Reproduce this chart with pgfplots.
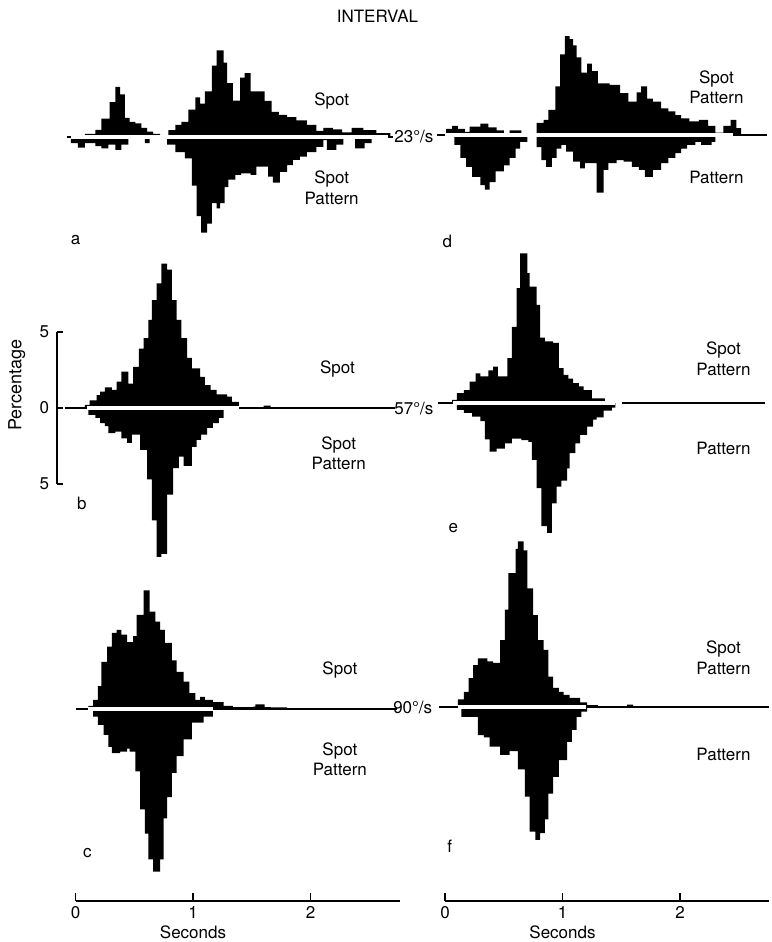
\documentclass[border=0pt]{standalone}
\usepackage{fontspec}
\setmainfont{TeX Gyre Heros}
\usepackage{pgfplots}
\pgfplotsset{compat=1.18}

\newcommand{\lf}{\fontsize{17}{20}\selectfont}

\tikzset{lbl/.style={font=\lf, anchor=base, inner sep=0pt}}
\pgfplotsset{
  panel/.style={anchor=south west, x=117.5pt, y=15.2pt,
    xmin=-0.2, xmax=2.8, ymin=-11, ymax=11,
    hide axis, clip=false, enlargelimits=false},
  hist/.style={const plot, fill=black, draw=none},
  zero/.style={black, line width=1.3pt},
  gap/.style={white, line width=4pt},
  timeaxis/.style={anchor=south west, x=117.5pt, y=10pt,
    xmin=0, xmax=2.76, ymin=0, ymax=1, clip=false,
    axis x line=bottom, axis y line=none,
    axis line style={-, line width=1.3pt},
    xtick={0,1,2}, tick align=inside, major tick length=8pt,
    tick style={line width=1.3pt, black},
    tick label style={font=\lf},
    /pgf/number format/assume math mode=true, enlargelimits=false},
}

\begin{document}
\lf
\begin{tikzpicture}
\useasboundingbox (0pt,0pt) rectangle (771pt,942pt);

% ---------------- panel a : 23 deg/s, Spot / Spot+Pattern
\begin{axis}[panel, at={(52pt,637.8pt)}]
\addplot[zero] coordinates {(-0.07,0) (2.70,0)};
\addplot[hist] coordinates {(0.08,0.2) (0.17,0.46) (0.22,1.2) (0.29,2.3) (0.34,3.3) (0.38,2.8) (0.42,1.25) (0.46,1.0) (0.51,0.9) (0.56,0.6) (0.61,0.35) (0.66,0.2) (0.72,0)
 (0.79,0.45) (0.85,0.8) (0.90,1.0) (0.96,1.8) (1.02,2.6) (1.06,2.2) (1.10,3.0) (1.16,4.7) (1.20,5.7) (1.26,4.9) (1.29,3.55) (1.34,2.4) (1.40,3.9) (1.44,4.2) (1.49,3.0) (1.56,3.0) (1.61,2.37) (1.67,1.66) (1.73,1.45) (1.80,1.3) (1.88,1.1) (1.97,0.8) (2.05,0.4) (2.11,0.6) (2.19,0.5) (2.27,0.3) (2.35,0.6) (2.45,0.45) (2.56,0.25) (2.68,0)} \closedcycle;
\addplot[hist] coordinates {(-0.04,-0.4) (0.02,-0.7) (0.08,-0.4) (0.17,-0.6) (0.22,-0.75) (0.28,-0.5) (0.34,-0.85) (0.39,-0.5) (0.45,0) (0.59,-0.4) (0.63,0)
 (0.78,-0.5) (0.85,-1.0) (0.93,-1.4) (0.99,-3.2) (1.03,-5.2) (1.07,-6.3) (1.12,-5.7) (1.16,-4.35) (1.20,-4.7) (1.23,-4.35) (1.27,-3.3) (1.30,-2.8) (1.36,-2.5) (1.41,-2.4) (1.49,-2.5) (1.54,-1.95) (1.64,-2.6) (1.68,-3.0) (1.74,-2.3) (1.80,-1.85) (1.85,-1.5) (1.91,-1.3) (1.97,-1.0) (2.05,-0.65) (2.11,-0.2) (2.14,-0.85) (2.22,-0.5) (2.28,0) (2.38,-0.75) (2.46,-0.4) (2.52,0)} \closedcycle;
\addplot[gap] coordinates {(-0.04,0) (2.66,0)};
\node[lbl] at (axis cs:2.18,2.04) {Spot};
\node[lbl] at (axis cs:2.18,-3.09) {Spot};
\node[lbl] at (axis cs:2.18,-4.41) {Pattern};
\node[lbl] at (axis cs:0.0,-7.1) {a};
\node[font=\lf, inner sep=0pt] at (axis cs:2.88,0.05) {23°/s};
\node[lbl] at (axis cs:2.57,7.5) {INTERVAL};
\end{axis}

% ---------------- panel d : 23 deg/s, Spot+Pattern / Pattern
\begin{axis}[panel, at={(421.5pt,639.8pt)}]
\addplot[zero] coordinates {(-0.07,0) (2.74,0)};
\addplot[hist] coordinates {(0.01,0.4) (0.06,0.6) (0.11,0.4) (0.17,0.2) (0.21,0.55) (0.30,0.75) (0.37,0.5) (0.44,0.3) (0.50,0) (0.55,0.3) (0.65,0)
 (0.78,0.8) (0.84,1.0) (0.88,1.65) (0.94,3.2) (0.98,5.3) (1.02,6.5) (1.06,6.3) (1.09,5.9) (1.12,5.1) (1.16,4.1) (1.21,4.7) (1.25,4.2) (1.30,3.4) (1.40,3.3) (1.49,2.75) (1.56,2.2) (1.63,2.8) (1.67,3.2) (1.72,2.4) (1.77,2.2) (1.84,1.75) (1.90,1.55) (1.96,1.3) (2.01,1.1) (2.08,0.9) (2.16,1.0) (2.24,0.6) (2.30,0.15) (2.37,0.6) (2.43,1.0) (2.48,0.45) (2.52,0)} \closedcycle;
\addplot[hist] coordinates {(0.08,-0.65) (0.13,-1.5) (0.18,-2.1) (0.23,-2.75) (0.30,-3.3) (0.34,-3.6) (0.38,-3.1) (0.43,-2.4) (0.50,-2.0) (0.55,-1.5) (0.60,-0.9) (0.64,-0.45) (0.70,0)
 (0.78,-0.8) (0.82,-1.65) (0.86,-2.1) (0.91,-1.5) (0.95,-0.9) (0.99,-0.65) (1.03,-1.1) (1.09,-1.75) (1.15,-2.2) (1.19,-1.85) (1.29,-3.8) (1.35,-2.3) (1.39,-1.85) (1.46,-1.65) (1.52,-1.75) (1.59,-2.1) (1.65,-2.3) (1.70,-2.75) (1.77,-2.3) (1.84,-1.85) (1.90,-1.5) (1.96,-1.2) (2.01,-0.9) (2.06,-0.65) (2.13,-0.45) (2.18,-0.65) (2.27,-0.45) (2.30,0)} \closedcycle;
\addplot[gap] coordinates {(0.0,0) (2.45,0)};
\node[lbl] at (axis cs:2.31,3.36) {Spot};
\node[lbl] at (axis cs:2.31,2.04) {Pattern};
\node[lbl] at (axis cs:2.31,-3.16) {Pattern};
\node[lbl] at (axis cs:0.02,-7.37) {d};
\end{axis}

% ---------------- panel b : 57 deg/s, Spot / Spot+Pattern
\begin{axis}[panel, at={(52pt,366.8pt)}]
\addplot[zero] coordinates {(-0.09,0) (2.72,0)};
\addplot[hist] coordinates {(0.08,0.2) (0.12,0.5) (0.18,0.85) (0.21,1.07) (0.25,1.36) (0.31,1.2) (0.35,1.73) (0.39,2.4) (0.45,1.6) (0.49,2.7) (0.54,3.9) (0.58,4.6) (0.62,5.8) (0.65,7.1) (0.69,8.2) (0.73,9.5) (0.78,9.1) (0.82,7.1) (0.86,5.8) (0.90,4.6) (0.95,3.3) (0.99,2.6) (1.06,2.05) (1.10,1.5) (1.15,1.2) (1.20,0.9) (1.29,0.75) (1.33,0.4) (1.39,0) (1.60,0.15) (1.66,0)} \closedcycle;
\addplot[hist] coordinates {(0.11,-0.45) (0.17,-0.65) (0.21,-1.0) (0.25,-1.2) (0.28,-1.65) (0.34,-1.55) (0.39,-2.0) (0.44,-2.3) (0.48,-1.75) (0.55,-2.75) (0.61,-4.7) (0.65,-7.4) (0.69,-9.8) (0.73,-9.6) (0.78,-5.7) (0.83,-3.95) (0.88,-3.2) (0.92,-3.8) (0.99,-2.55) (1.03,-2.1) (1.07,-1.75) (1.12,-1.3) (1.17,-1.0) (1.22,-0.65) (1.26,0)} \closedcycle;
\addplot[gap] coordinates {(0.10,0) (1.39,0)};
\node[lbl] at (axis cs:2.23,2.30) {Spot};
\node[lbl] at (axis cs:2.24,-2.70) {Spot};
\node[lbl] at (axis cs:2.24,-4.02) {Pattern};
\node[lbl] at (axis cs:0.055,-6.71) {b};
\node[font=\lf, inner sep=0pt] at (axis cs:2.88,0.0) {57°/s};
\node[font=\fontsize{18}{21}\selectfont, inner sep=0pt, rotate=90] at (axis cs:-0.5,1.5) {Percentage};
\end{axis}

% percentage scale beside panel b
\begin{axis}[anchor=south west, at={(57pt,458pt)}, x=117.5pt, y=15.2pt,
  xmin=0, xmax=0.1, ymin=-5, ymax=5, enlargelimits=false,
  axis y line=left, axis x line=none, axis line style={-, line width=1.3pt},
  ytick={-5,0,5}, yticklabels={5,0,5}, tick align=inside, major tick length=6pt,
  tick style={line width=1.3pt, black}, tick label style={font=\lf},
  yticklabel style={xshift=-2pt}]
\end{axis}

% ---------------- panel e : 57 deg/s, Spot+Pattern / Pattern
\begin{axis}[panel, at={(421.5pt,371.8pt)}]
\addplot[zero] coordinates {(-0.06,0) (1.42,0)};
\addplot[zero] coordinates {(1.51,0) (2.72,0)};
\addplot[hist] coordinates {(0.06,0.2) (0.10,0.65) (0.16,0.85) (0.21,1.4) (0.26,1.95) (0.30,1.75) (0.37,2.15) (0.41,2.4) (0.45,1.75) (0.53,2.95) (0.57,5.0) (0.61,7.55) (0.64,9.85) (0.70,8.55) (0.72,7.65) (0.78,6.45) (0.81,4.3) (0.85,4.05) (0.92,3.95) (0.97,2.3) (1.01,1.85) (1.05,1.6) (1.09,1.3) (1.14,1.1) (1.18,0.85) (1.25,0.3) (1.36,0)} \closedcycle;
\addplot[hist] coordinates {(0.10,-0.45) (0.16,-0.65) (0.23,-0.9) (0.30,-1.2) (0.34,-2.4) (0.38,-3.2) (0.44,-3.0) (0.51,-2.65) (0.57,-2.35) (0.65,-2.45) (0.71,-2.55) (0.74,-3.75) (0.78,-5.6) (0.82,-8.1) (0.87,-8.55) (0.91,-6.6) (0.95,-5.5) (0.99,-5.1) (1.04,-4.3) (1.06,-3.3) (1.11,-2.65) (1.15,-2.1) (1.21,-1.55) (1.26,-1.1) (1.29,-0.95) (1.35,-0.5) (1.42,-0.3) (1.45,0)} \closedcycle;
\addplot[gap] coordinates {(0.07,0) (1.45,0)};
\node[lbl] at (axis cs:2.37,3.16) {Spot};
\node[lbl] at (axis cs:2.37,1.84) {Pattern};
\node[lbl] at (axis cs:2.37,-3.42) {Pattern};
\node[lbl] at (axis cs:0.07,-8.5) {e};
\end{axis}

% ---------------- panel c : 90 deg/s, Spot / Spot+Pattern
\begin{axis}[panel, at={(52pt,65.8pt)}]
\addplot[zero] coordinates {(0.0,0) (2.74,0)};
\addplot[hist] coordinates {(0.11,0.2) (0.15,0.6) (0.19,1.5) (0.22,3.1) (0.27,4.1) (0.31,5.0) (0.35,5.2) (0.39,4.9) (0.44,4.4) (0.49,4.8) (0.52,6.2) (0.58,7.8) (0.63,6.4) (0.68,5.75) (0.72,5.2) (0.76,4.35) (0.82,3.2) (0.86,2.45) (0.92,1.8) (0.97,1.05) (1.02,0.6) (1.06,0.8) (1.10,0.6) (1.17,0.45) (1.26,0.2) (1.34,0.12) (1.51,0.15) (1.53,0.3) (1.61,0.12) (1.66,0.1) (1.80,0)} \closedcycle;
\addplot[hist] coordinates {(0.15,-0.5) (0.19,-1.05) (0.24,-1.7) (0.28,-2.5) (0.31,-2.9) (0.38,-2.8) (0.44,-2.6) (0.46,-2.8) (0.51,-4.1) (0.55,-6.6) (0.59,-8.2) (0.62,-9.9) (0.66,-10.7) (0.72,-9.9) (0.75,-7.2) (0.78,-5.8) (0.82,-4.2) (0.86,-3.1) (0.92,-2.0) (0.99,-0.9) (1.09,-0.5) (1.17,0)} \closedcycle;
\addplot[gap] coordinates {(0.11,0) (1.17,0)};
\node[lbl] at (axis cs:2.25,2.24) {Spot};
\node[lbl] at (axis cs:2.25,-3.03) {Spot};
\node[lbl] at (axis cs:2.25,-4.35) {Pattern};
\node[lbl] at (axis cs:0.1,-9.74) {c};
\node[font=\lf, inner sep=0pt] at (axis cs:2.87,0.13) {90°/s};
\end{axis}

% ---------------- panel f : 90 deg/s, Spot+Pattern / Pattern
\begin{axis}[panel, at={(421.5pt,67.8pt)}]
\addplot[zero] coordinates {(-0.05,0) (2.76,0)};
\addplot[hist] coordinates {(0.11,0.5) (0.16,1.0) (0.20,1.9) (0.24,2.75) (0.28,3.2) (0.36,3.0) (0.41,2.9) (0.47,4.4) (0.51,6.4) (0.54,8.8) (0.60,10.4) (0.62,10.9) (0.67,10.3) (0.70,7.8) (0.75,6.05) (0.79,4.4) (0.84,3.75) (0.88,2.0) (0.92,1.25) (0.97,1.0) (1.01,0.8) (1.06,0.6) (1.15,0.3) (1.21,0.12) (1.30,0) (1.55,0.15) (1.60,0)} \closedcycle;
\addplot[hist] coordinates {(0.14,-0.65) (0.28,-1.85) (0.33,-2.0) (0.38,-2.6) (0.47,-3.15) (0.55,-2.9) (0.62,-4.1) (0.68,-5.9) (0.72,-8.2) (0.77,-8.75) (0.81,-8.3) (0.85,-7.4) (0.88,-5.7) (0.92,-4.6) (0.97,-3.5) (1.04,-2.3) (1.08,-1.5) (1.12,-0.65) (1.16,-0.3) (1.21,0)} \closedcycle;
\addplot[gap] coordinates {(0.11,0) (1.20,0)};
\node[lbl] at (axis cs:2.37,3.49) {Spot};
\node[lbl] at (axis cs:2.37,2.17) {Pattern};
\node[lbl] at (axis cs:2.37,-3.49) {Pattern};
\node[lbl] at (axis cs:0.04,-9.54) {f};
\end{axis}

% ---------------- time axes
\begin{axis}[timeaxis, at={(75.5pt,41pt)}]
\node[lbl] at (axis cs:1,0) [yshift=-37pt] {Seconds};
\end{axis}
\begin{axis}[timeaxis, at={(445pt,41pt)}]
\node[lbl] at (axis cs:1,0) [yshift=-37pt] {Seconds};
\end{axis}
\end{tikzpicture}
\end{document}
